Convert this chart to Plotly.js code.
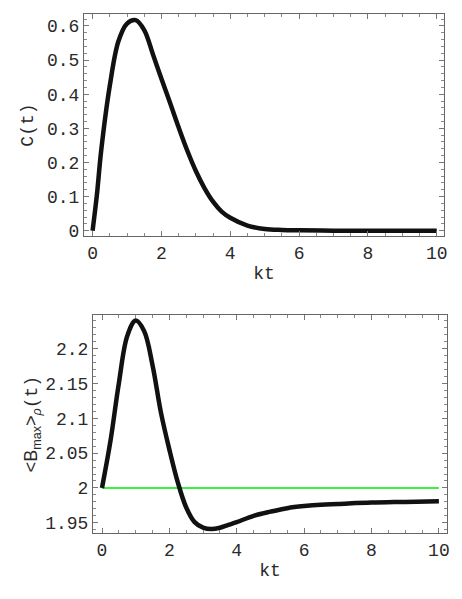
<!DOCTYPE html>
<html>
<head>
<meta charset="utf-8">
<script src="https://cdn.plot.ly/plotly-3.0.1.min.js"></script>
<style>
  html, body { margin: 0; padding: 0; background: #fff; }
  #myChart { width: 462px; height: 599px; }
</style>
</head>
<body>
<div id="myChart"></div>
<script>
// top panel: C(t) against kt
var kt_c = [0, 0.125, 0.25, 0.5, 0.75, 1.0, 1.25, 1.5, 1.75, 2.0, 2.25, 2.5, 2.75, 3.0, 3.25, 3.5, 3.75, 4.0, 4.5, 5.0, 5.5, 6, 7, 8, 9, 10];
var c_vals = [0, 0.105, 0.235, 0.425, 0.555, 0.607, 0.617, 0.588, 0.518, 0.445, 0.375, 0.303, 0.235, 0.175, 0.125, 0.085, 0.056, 0.038, 0.015, 0.005, 0.002, 0.001, 0, 0, 0, 0];

// bottom panel: <B_max>_rho(t) against kt, plus the classical bound 2
var kt_b = [0, 0.25, 0.5, 0.75, 1.0, 1.25, 1.5, 1.75, 2.0, 2.25, 2.5, 2.75, 3.0, 3.25, 3.5, 3.75, 4.0, 4.5, 5.0, 5.5, 6, 6.5, 7, 8, 9, 10];
var b_vals = [2.0, 2.067, 2.15, 2.218, 2.24, 2.225, 2.176, 2.108, 2.055, 2.008, 1.972, 1.951, 1.943, 1.941, 1.943, 1.947, 1.951, 1.96, 1.966, 1.971, 1.974, 1.976, 1.977, 1.979, 1.980, 1.981];
var kt_bound = [0, 10];
var bound_vals = [2, 2];

var mono = 'Liberation Mono, Courier New, monospace';

function frame_axis(extra) {
  var ax = {
    showline: true, linecolor: '#666', linewidth: 1, mirror: 'ticks',
    ticks: 'inside', ticklen: 5, tickcolor: '#777', tickwidth: 1,
    showgrid: false, zeroline: false,
    tickfont: {family: mono, size: 18, color: '#2a2a2a'}
  };
  for (var k in extra) ax[k] = extra[k];
  return ax;
}

var trace1 = {
  x: kt_c, y: c_vals, xaxis: 'x', yaxis: 'y',
  mode: 'lines', line: {color: '#111', width: 4.5, shape: 'spline', smoothing: 1},
  hoverinfo: 'none'
};
var trace2 = {
  x: kt_bound, y: bound_vals, xaxis: 'x2', yaxis: 'y2',
  mode: 'lines', line: {color: '#3ef03e', width: 2},
  hoverinfo: 'none'
};
var trace3 = {
  x: kt_b, y: b_vals, xaxis: 'x2', yaxis: 'y2',
  mode: 'lines', line: {color: '#111', width: 4.5, shape: 'spline', smoothing: 1},
  hoverinfo: 'none'
};

var layout = {
  width: 462, height: 599,
  margin: {l: 0, r: 0, t: 0, b: 0},
  paper_bgcolor: '#fff', plot_bgcolor: '#fff',
  showlegend: false,
  xaxis: frame_axis({
    domain: [0.1818, 0.961], anchor: 'y', range: [-0.25, 10.21],
    tickvals: [0, 2, 4, 6, 8, 10],
    minor: {ticks: 'inside', dtick: 0.5, ticklen: 3, tickcolor: '#888'},
    title: {text: 'kt', font: {family: mono, size: 18, color: '#2a2a2a'}, standoff: 3}
  }),
  yaxis: frame_axis({
    domain: [0.606, 0.9766], anchor: 'x', range: [-0.0156, 0.635],
    tickvals: [0, 0.1, 0.2, 0.3, 0.4, 0.5, 0.6],
    ticktext: ['0', '0.1', '0.2', '0.3', '0.4', '0.5', '0.6'],
    minor: {ticks: 'inside', dtick: 0.02, ticklen: 3, tickcolor: '#888'},
    title: {text: 'C(t)', font: {family: mono, size: 18, color: '#2a2a2a'}, standoff: 8}
  }),
  xaxis2: frame_axis({
    domain: [0.2013, 0.9675], anchor: 'y2', range: [-0.267, 10.24],
    tickvals: [0, 2, 4, 6, 8, 10],
    minor: {ticks: 'inside', dtick: 0.5, ticklen: 3, tickcolor: '#888'},
    title: {text: 'kt', font: {family: mono, size: 18, color: '#2a2a2a'}, standoff: 3}
  }),
  yaxis2: frame_axis({
    domain: [0.1097, 0.4741], anchor: 'x2', range: [1.935, 2.248],
    tickvals: [1.95, 2, 2.05, 2.1, 2.15, 2.2],
    ticktext: ['1.95', '2', '2.05', '2.1', '2.15', '2.2'],
    minor: {ticks: 'inside', dtick: 0.01, ticklen: 3, tickcolor: '#888'},
    title: {
      text: '<span style="font-family:Liberation Sans">&lt;B<sub>max</sub>&gt;<sub><i>ρ</i></sub></span>(t)',
      font: {family: mono, size: 18, color: '#2a2a2a'}, standoff: 2
    }
  })
};

Plotly.newPlot('myChart', [trace1, trace2, trace3], layout, {staticPlot: true});
</script>
</body>
</html>
